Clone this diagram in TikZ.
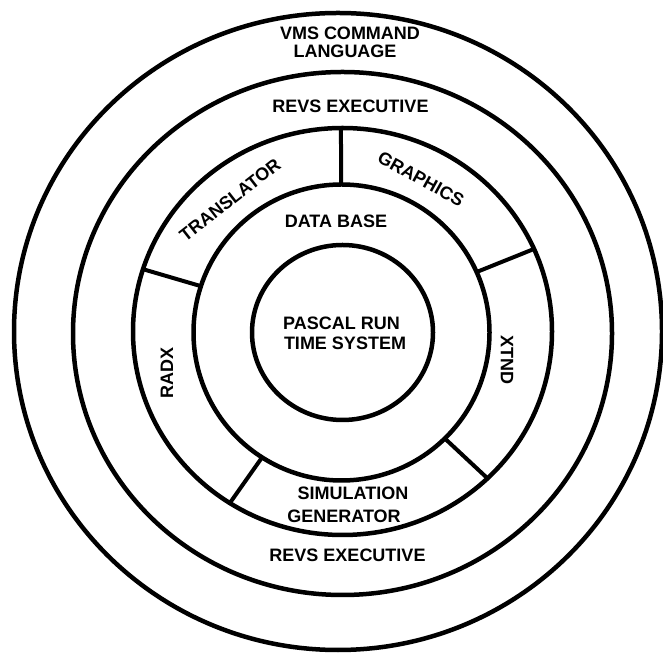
\documentclass[tikz,border=0pt]{standalone}
\usepackage{fontspec}
\setmainfont{Liberation Sans}
\begin{document}
\begin{tikzpicture}[x=1pt,y=1pt,
  ring/.style={draw=black, line width=4.5pt},
  divider/.style={draw=black, line width=4pt},
  lbl/.style={font=\bfseries\fontsize{18}{20}\selectfont, inner sep=0pt}]
\useasboundingbox (0,0) rectangle (663,655);
\fill[white] (0,0) rectangle (663,655);
% rings
\draw[ring] (338,323.5) ellipse [x radius=324, y radius=318.5];
\draw[ring] (342.5,321.5) ellipse [x radius=269.5, y radius=261.5];
\draw[ring] (342.5,323.5) ellipse [x radius=209.5, y radius=203.5];
\draw[ring] (341.5,322.5) circle [radius=148];
\draw[ring] (342.5,322.5) ellipse [x radius=90.5, y radius=87.5];
% dividers of the module ring
\coordinate (C) at (342,323);
\draw[divider, shift={(C)}] (90.3:148) -- (90.3:209.5 and 203.5);
\draw[divider, shift={(C)}] (162:148) -- (162:209.5 and 203.5);
\draw[divider, shift={(C)}] (24:148) -- (24:209.5 and 203.5);
\draw[divider, shift={(C)}] (-46:148) -- (-46:209.5 and 203.5);
\draw[divider, shift={(C)}] (-122.5:148) -- (-122.5:209.5 and 203.5);
% labels
\node[lbl] (vms1) at (350,622) {VMS COMMAND};
\node[lbl] (vms2) at (345,604) {LANGUAGE};
\node[lbl] (revstop) at (350.5,548.5) {REVS EXECUTIVE};
\node[lbl, rotate=38] (trans) at (230,455) {TRANSLATOR};
\node[lbl, rotate=-29] (graph) at (421,476) {GRAPHICS};
\node[lbl] (db) at (336,433.5) {DATA BASE};
\node[lbl] (pas1) at (341.5,331.5) {PASCAL RUN};
\node[lbl] (pas2) at (345,311.5) {TIME SYSTEM};
\node[lbl, rotate=90] (radx) at (167,282) {RADX};
\node[lbl, rotate=-90] (xtnd) at (507,295) {XTND};
\node[lbl] (sim1) at (353,161.5) {SIMULATION};
\node[lbl] (sim2) at (344,138.5) {GENERATOR};
\node[lbl] (revsbot) at (347.5,100) {REVS EXECUTIVE};
\end{tikzpicture}
\end{document}
